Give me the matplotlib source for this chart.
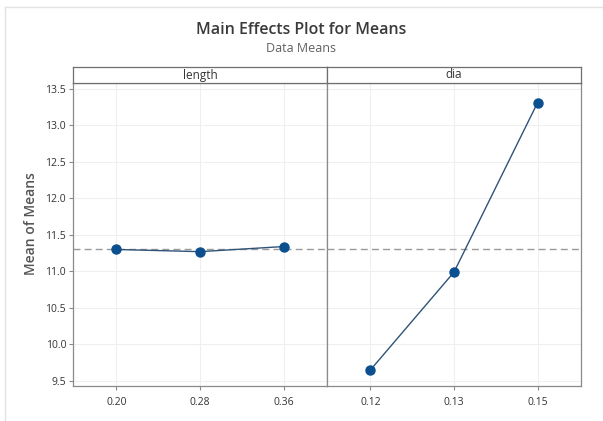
import matplotlib.pyplot as plt
from matplotlib.lines import Line2D

plt.rcParams['font.family'] = ['Open Sans', 'DejaVu Sans']

# data
factors = ['length', 'dia']
levels = {
    'length': ['0.20', '0.28', '0.36'],
    'dia': ['0.12', '0.13', '0.15'],
}
length_means = [11.30, 11.27, 11.34]
dia_means = [9.65, 10.99, 13.31]
grand_mean = 11.30
yticks = [9.5, 10.0, 10.5, 11.0, 11.5, 12.0, 12.5, 13.0, 13.5]

W, H = 603, 421
fig = plt.figure(figsize=(W / 100, H / 100), dpi=100)
fig.patch.set_facecolor('white')

# faint outer frame (top + left only)
fig.add_artist(Line2D([5 / W, 1], [1 - 7 / H, 1 - 7 / H], color='#e2e2e2', lw=1))
fig.add_artist(Line2D([5 / W, 5 / W], [0, 1 - 7 / H], color='#e2e2e2', lw=1))

fig.text(0.5, 1 - 30 / H, 'Main Effects Plot for Means', ha='center', va='center',
         fontsize=11.5, fontweight='semibold', color='#3a3a3a')
fig.text(0.5, 1 - 48 / H, 'Data Means', ha='center', va='center',
         fontsize=9, color='#606060')

x0, x_mid, x1 = 73, 327, 581
y_top, y_bot, strip_top = 83, 386, 67
pw = (x_mid - x0) / W
ph = (y_bot - y_top) / H
bottom = 1 - y_bot / H

line_c = '#2f5378'
mark_c = '#0b4f8f'
spine_c = '#8a8a8a'

series = {'length': length_means, 'dia': dia_means}
axes = []
for i, name in enumerate(factors):
    left = (x0 if i == 0 else x_mid) / W
    ax = fig.add_axes([left, bottom, pw, ph])
    vals = series[name]
    xs = range(len(vals))
    ax.set_xlim(-0.52, 2.52)
    ax.set_ylim(9.43, 13.58)
    ax.set_yticks(yticks)
    ax.grid(True, color='#efefef', lw=0.8)
    ax.set_axisbelow(True)
    ax.axhline(grand_mean, color='#9a9a9a', lw=1, ls=(0, (5, 3)), zorder=1)
    ax.plot(xs, vals, color=line_c, lw=1, zorder=2)
    ax.plot(xs, vals, 'o', color=mark_c, ms=6.5, zorder=3)
    ax.set_xticks(list(xs))
    ax.set_xticklabels(levels[name], fontsize=7.5, color='#333333')
    ax.tick_params(axis='x', length=3, color=spine_c, pad=5)
    if i == 0:
        ax.set_yticklabels([f'{t:.1f}' for t in yticks], fontsize=7.5, color='#333333')
        ax.tick_params(axis='y', length=3, color=spine_c, pad=2)
        ax.set_ylabel('Mean of Means', fontsize=10, fontweight='semibold',
                      color='#555555')
        ax.yaxis.set_label_coords((38 - x0) / (x_mid - x0), (y_bot - 224) / (y_bot - y_top))
    else:
        ax.tick_params(axis='y', left=False, labelleft=False)
    for s in ax.spines.values():
        s.set_color(spine_c)
        s.set_linewidth(0.9)

    # strip header
    sax = fig.add_axes([left, 1 - y_top / H, pw, (y_top - strip_top) / H])
    sax.set_xticks([])
    sax.set_yticks([])
    sax.set_facecolor('white')
    for s in sax.spines.values():
        s.set_color('#6f6f6f')
        s.set_linewidth(0.9)
    sax.text(0.5, 0.5, name, ha='center', va='center', fontsize=8.5,
             color='#333333', transform=sax.transAxes)
    axes.append(ax)

fig.savefig('out.png', dpi=100)
